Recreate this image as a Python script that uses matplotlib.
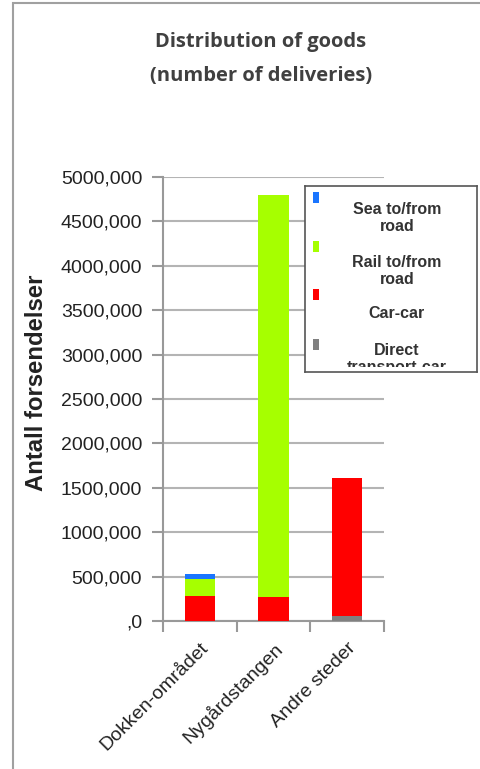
import numpy as np
import matplotlib.pyplot as plt
from matplotlib.patches import Rectangle
from matplotlib.transforms import ScaledTranslation

# Dados
steder = ['Dokken-området', 'Nygårdstangen', 'Andre steder']
direkte = [0, 0, 55000]
bil_bil = [285000, 275000, 1555000]
bane = [190000, 4525000, 0]
sjo = [55000, 0, 0]

serier = ['Sea to/from\nroad', 'Rail to/from\nroad', 'Car-car', 'Direct\ntransport-car']
farger = ['#1a75ff', '#a6ff00', '#ff0000', '#808080']

yticks = np.arange(0, 5000001, 500000)
ytick_labels = [',0', '500,000', '1000,000', '1500,000', '2000,000', '2500,000',
                '3000,000', '3500,000', '4000,000', '4500,000', '5000,000']

W, H = 481, 769
fig = plt.figure(figsize=(W / 100, H / 100), dpi=100)

# moldura externa (cortada à direita/embaixo)
fig.patches.append(Rectangle((13 / W, -0.1), 1.2, 1 - 3 / H + 0.1, transform=fig.transFigure,
                             fill=False, edgecolor='#a0a0a0', linewidth=1.5))

ax = fig.add_axes([163 / W, 1 - 621 / H, (384 - 163) / W, (621 - 177) / H])
x = np.arange(len(steder))
larg = 0.41
bunn = np.zeros(len(steder))
for vals, cor in [(direkte, farger[3]), (bil_bil, farger[2]), (bane, farger[1]), (sjo, farger[0])]:
    ax.bar(x, vals, larg, bottom=bunn, color=cor, linewidth=0, zorder=3)
    bunn += np.array(vals)

ax.set_xlim(-0.5, 2.5)
ax.set_ylim(0, 5000000)
ax.set_yticks(yticks)
ax.set_yticklabels(ytick_labels, fontsize=14, family='Liberation Sans', color='#222222')
ax.set_xticks([-0.5, 0.5, 1.5, 2.5])
ax.set_xticklabels([])
ax.set_xticks(x, minor=True)
ax.set_xticklabels(steder, minor=True, rotation=45, ha='right', va='top', rotation_mode='anchor',
                   fontsize=14, family='Liberation Sans', color='#222222')
desloc = ScaledTranslation(-9 / 100, 1 / 100, fig.dpi_scale_trans)
for t in ax.get_xticklabels(minor=True):
    t.set_transform(t.get_transform() + desloc)
ax.tick_params(axis='x', which='minor', length=0, pad=13)
ax.tick_params(axis='x', which='major', length=8, color='#999999', width=1.5, direction='out')
ax.tick_params(axis='y', length=8, color='#999999', width=1.5, pad=7)
ax.grid(axis='y', color='#b4b4b4', linewidth=1.5, zorder=0)
for s in ['top', 'right']:
    ax.spines[s].set_visible(False)
for s in ['left', 'bottom']:
    ax.spines[s].set_color('#999999')
    ax.spines[s].set_linewidth(1.5)
ax.set_ylabel('Antall forsendelser', fontsize=17.2, fontweight='bold', family='Liberation Sans',
              color='#222222')
ax.yaxis.set_label_coords(-0.52, 0.536)

fig.text(261 / W, 1 - 42 / H, 'Distribution of goods', ha='center', va='center',
         fontsize=14.5, fontweight='bold', family='Open Sans', color='#404040')
fig.text(261 / W, 1 - 76 / H, '(number of deliveries)', ha='center', va='center',
         fontsize=14.5, fontweight='bold', family='Open Sans', color='#404040')

# legenda desenhada à mão (o texto é cortado pela caixa, como no original)
lg = fig.add_axes([305 / W, 1 - 372 / H, (477 - 305) / W, (372 - 186) / H])
lg.set_xlim(0, 172)
lg.set_ylim(186, 0)
lg.set_xticks([])
lg.set_yticks([])
for s in lg.spines.values():
    s.set_color('#555555')
    s.set_linewidth(1.2)
klipp = Rectangle((0, 0), 172, 181, transform=lg.transData, visible=False)
lg.add_patch(klipp)
quad_y = [6, 55, 103, 153]
texto_y = [32, 85, 127, 173]
for cor, nome, qy, ty in zip(farger, serier, quad_y, texto_y):
    lg.add_patch(Rectangle((8, qy), 6, 11, color=cor, linewidth=0))
    t = lg.text(92, ty, nome, ha='center', va='center', fontsize=11.5, fontweight='bold',
                family='Liberation Sans', color='#333333', linespacing=1.2)
    t.set_clip_path(klipp)
    t.set_clip_on(True)

plt.savefig('out.png', dpi=100)
